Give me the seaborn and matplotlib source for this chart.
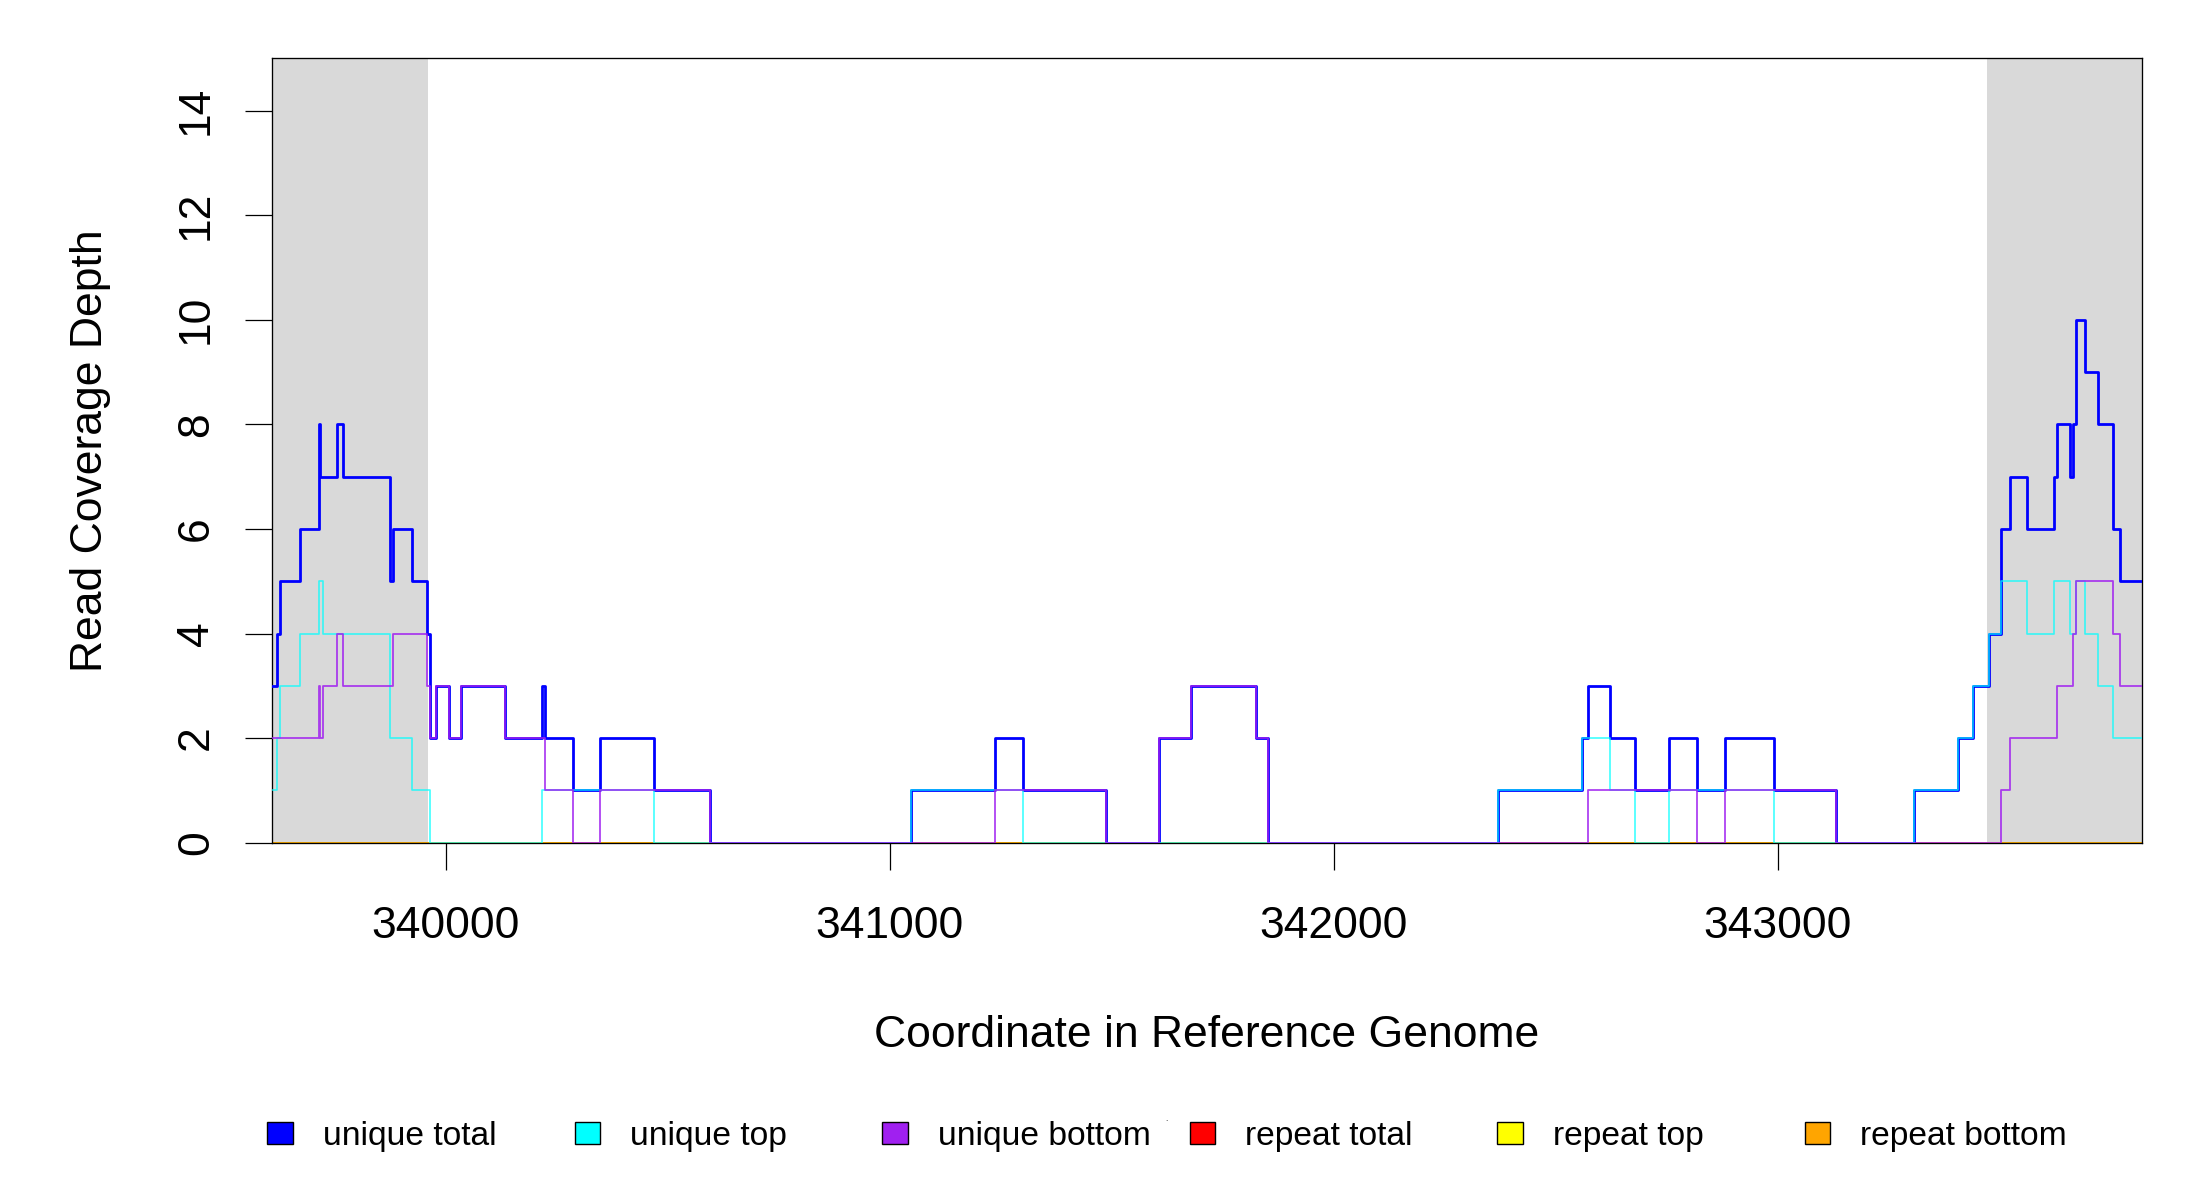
import matplotlib
matplotlib.use("Agg")
import matplotlib.pyplot as plt
from matplotlib.patches import Rectangle
import seaborn as sns
import pandas as pd

# ---------------- data (step functions: start coordinate -> depth) ----------------
x_start = 339608
x_end = 343821

flank_left = (339608, 339960)
flank_right = (343471, 343821)

unique_total_x = [339608, 339620, 339627, 339670, 339713, 339717, 339754, 339768,
                  339873, 339880, 339923, 339958, 339965, 339977, 340006, 340033,
                  340132, 340217, 340222, 340286, 340348, 340469, 340594, 341048,
                  341237, 341300, 341488, 341607, 341678, 341825, 341852, 342370,
                  342559, 342573, 342622, 342678, 342756, 342819, 342881, 342993,
                  343132, 343307, 343407, 343441, 343477, 343504, 343524, 343561,
                  343623, 343630, 343658, 343666, 343672, 343693, 343721, 343756,
                  343771]
unique_total_y = [3, 4, 5, 6, 8, 7, 8, 7,
                  5, 6, 5, 4, 2, 3, 2, 3,
                  2, 3, 2, 1, 2, 1, 0, 1,
                  2, 1, 0, 2, 3, 2, 0, 1,
                  2, 3, 2, 1, 2, 1, 2, 1,
                  0, 1, 2, 3, 4, 6, 7, 6,
                  7, 8, 7, 8, 10, 9, 8, 6,
                  5]

unique_top_x = [339608, 339620, 339627, 339670, 339713, 339724, 339873, 339923,
                339965, 340217, 340469, 341048, 341300, 342370, 342559, 342622,
                342678, 342756, 342993, 343307, 343407, 343441, 343477, 343504,
                343561, 343623, 343658, 343672, 343693, 343721, 343756]
unique_top_y = [1, 2, 3, 4, 5, 4, 2, 1,
                0, 1, 0, 1, 0, 1, 2, 1,
                0, 1, 0, 1, 2, 3, 4, 5,
                4, 5, 4, 5, 4, 3, 2]

unique_bottom_x = [339608, 339713, 339717, 339724, 339754, 339768, 339880, 339958,
                   339965, 339977, 340006, 340033, 340132, 340222, 340286, 340348,
                   340594, 341237, 341488, 341607, 341678, 341825, 341852, 342573,
                   342819, 342881, 343132, 343504, 343524, 343630, 343666, 343672,
                   343756, 343771]
unique_bottom_y = [2, 3, 2, 3, 4, 3, 4, 3,
                   2, 3, 2, 3, 2, 1, 0, 1,
                   0, 1, 0, 2, 3, 2, 0, 1,
                   0, 1, 0, 1, 2, 3, 4, 5,
                   4, 3]

repeat_total_x = [339608]
repeat_total_y = [0]
repeat_top_x = [339608]
repeat_top_y = [0]
repeat_bottom_x = [339608]
repeat_bottom_y = [0]

legend_labels = ["unique total", "unique top", "unique bottom",
                 "repeat total", "repeat top", "repeat bottom"]
legend_colors = ["#0000FF", "#00FFFF", "#A020F0", "#FF0000", "#FFFF00", "#FFA500"]

x_ticks = [340000, 341000, 342000, 343000]
y_ticks = [0, 2, 4, 6, 8, 10, 12, 14]

# ---------------- figure ----------------
sns.set_theme(style="white")
plt.rcParams["font.family"] = ["Liberation Sans", "DejaVu Sans"]

W, H = 2200, 1200
fig = plt.figure(figsize=(22, 12), dpi=100)
fig.patch.set_facecolor("white")

ax_l, ax_r, ax_t, ax_b = 272, 2142, 58.2, 842.7
ax = fig.add_axes([ax_l / W, 1 - ax_b / H, (ax_r - ax_l) / W, (ax_b - ax_t) / H])
ax.set_facecolor("white")

ax.axvspan(*flank_left, color="#D9D9D9", lw=0, zorder=0)
ax.axvspan(*flank_right, color="#D9D9D9", lw=0, zorder=0)


def step_frame(xs, ys):
    return pd.DataFrame({"x": list(xs) + [x_end], "y": list(ys) + [ys[-1]]})


series = [
    (repeat_total_x, repeat_total_y, "#FF0000", 1.2, 1.0, 1),
    (repeat_top_x, repeat_top_y, "#FFFF00", 1.2, 1.0, 1.1),
    (repeat_bottom_x, repeat_bottom_y, "#FFA500", 1.2, 1.0, 1.2),
    (unique_total_x, unique_total_y, "#0000FF", 2.0, 1.0, 2),
    (unique_top_x, unique_top_y, "#00FFFF", 1.2, 0.75, 2.1),
    (unique_bottom_x, unique_bottom_y, "#A020F0", 1.3, 0.85, 2.2),
]
for xs, ys, col, lw, alpha, z in series:
    df = step_frame(xs, ys)
    sns.lineplot(data=df, x="x", y="y", ax=ax, color=col, linewidth=lw,
                 alpha=alpha, drawstyle="steps-post", estimator=None,
                 sort=False, zorder=z, legend=False)

ax.set_xlim(x_start, x_end)
ax.set_ylim(0, 15)

for s in ax.spines.values():
    s.set_visible(True)
    s.set_color("black")
    s.set_linewidth(0.95)
    s.set_zorder(1.5)

ax.set_xticks(x_ticks)
ax.set_xticklabels([str(v) for v in x_ticks])
ax.set_yticks(y_ticks)
ax.set_yticklabels([str(v) for v in y_ticks], rotation=90, va="center")
ax.tick_params(axis="both", which="both", direction="out", length=19.6,
               width=0.9, color="black", labelsize=32, labelcolor="black")
ax.tick_params(axis="x", pad=26, bottom=True)
ax.tick_params(axis="y", pad=20, left=True)
ax.set_xlabel("")
ax.set_ylabel("")

fig.text(1207 / W, 1 - 1046.7 / H, "Coordinate in Reference Genome",
         ha="center", va="baseline", fontsize=32, color="black")
fig.text(101.7 / W, 1 - 450.8 / H, "Read Coverage Depth", rotation=90,
         rotation_mode="anchor", ha="center", va="baseline", fontsize=32,
         color="black")

# ---------------- legend ----------------
sq_w, sq_h = 25.3, 21.4
for i, (lab, col) in enumerate(zip(legend_labels, legend_colors)):
    left = 267.3 + 307.5 * i
    fig.patches.append(Rectangle((left / W, 1 - 1143.7 / H), sq_w / W, sq_h / H,
                                 transform=fig.transFigure, facecolor=col,
                                 edgecolor="black", linewidth=1.0))
    fig.text((left + 55.4) / W, 1 - 1145 / H, lab, ha="left", va="baseline",
             fontsize=24.2, color="black")

fig.text(1166.7 / W, 1 - 1121 / H, ".", ha="center", va="baseline",
         fontsize=6, color="black")

fig.savefig("out.png", dpi=100, facecolor="white")
